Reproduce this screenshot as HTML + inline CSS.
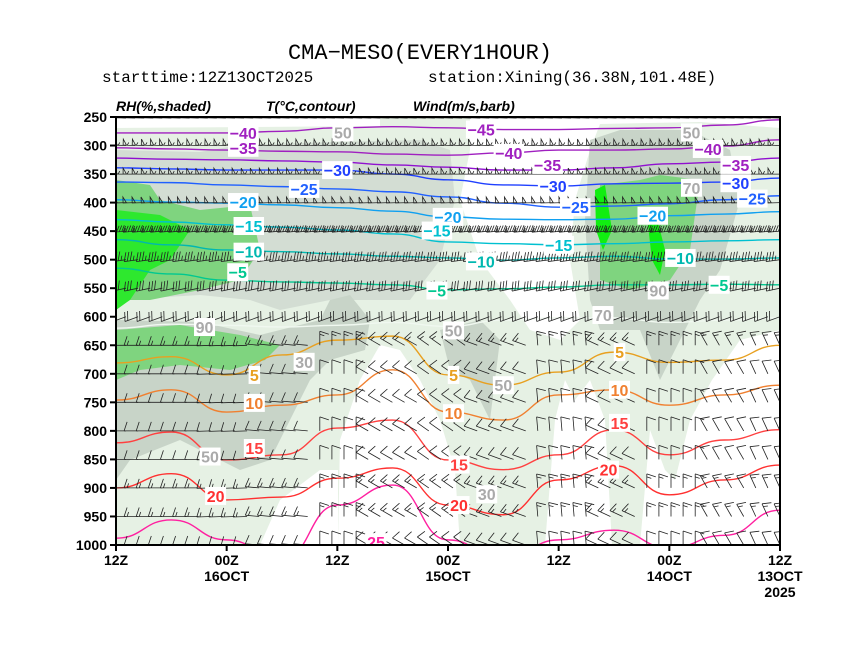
<!DOCTYPE html>
<html><head><meta charset="utf-8">
<style>
body{margin:0;background:#fff;width:860px;height:664px;overflow:hidden}
svg{display:block}
text{font-family:"Liberation Sans",sans-serif}
.mono{font-family:"Liberation Mono",monospace}
</style></head>
<body>
<svg id="chart" width="860" height="664" viewBox="0 0 860 664">
<text class="mono" x="420" y="59" font-size="22" text-anchor="middle">CMA−MESO(EVERY1HOUR)</text>
<text class="mono" x="102" y="82" font-size="16">starttime:12Z13OCT2025</text>
<text class="mono" x="428" y="82" font-size="16">station:Xining(36.38N,101.48E)</text>
<text x="116" y="111" font-size="14" font-weight="bold" font-style="italic" font-family="Liberation Serif">RH(%,shaded)</text>
<text x="266" y="111" font-size="14" font-weight="bold" font-style="italic">T(°C,contour)</text>
<text x="413" y="111" font-size="14" font-weight="bold" font-style="italic">Wind(m/s,barb)</text>
<defs><clipPath id="pc"><rect x="116" y="117" width="664" height="428"/></clipPath></defs>
<g clip-path="url(#pc)" id="plot">
<rect x="116" y="117" width="664" height="428" fill="#e6f1e4"/>
<g id="shade">
<path d="M116,117 L380,117 L380,126 L116,128 Z" fill="#fff"/>
<path d="M470,117 L780,117 L780,128 L700,122 L600,124 L590,150 L575,200 L570,260 L580,320 L560,340 L530,330 L510,300 L480,260 L460,200 L470,150 Z" fill="#fff"/>
<path d="M116,150 L200,152 L240,145 L330,142 L420,140 L450,150 L455,200 L440,260 L410,300 L330,300 L280,310 L250,300 L200,295 L116,300 Z" fill="#d3ddd3"/>
<path d="M116,320 L200,322 L260,335 L320,320 L330,300 L350,295 L370,320 L365,350 L330,360 L310,380 L290,420 L270,460 L240,470 L180,440 L130,460 L116,480 Z" fill="#c8d4c8"/>
<path d="M440,330 L480,320 L500,340 L490,420 L470,380 L450,370 Z" fill="#c8d4c8"/>
<path d="M590,140 L620,130 L690,130 L730,150 L740,200 L720,270 L700,300 L680,340 L660,380 L640,330 L600,330 L590,300 L585,220 Z" fill="#c8d4c8"/>
<path d="M116,180 L150,185 L160,200 L200,210 L250,205 L260,250 L240,280 L200,290 L150,300 L116,300 Z" fill="#7fd47f"/>
<path d="M116,330 L180,325 L240,335 L280,345 L265,360 L230,370 L180,365 L140,370 L116,380 Z" fill="#7fd47f"/>
<path d="M116,210 L160,215 L190,230 L170,260 L150,270 L130,300 L116,310 Z" fill="#2ee82e"/>
<path d="M600,185 L640,180 L660,175 L700,180 L690,250 L670,280 L630,290 L600,280 Z" fill="#7fd47f"/>
<path d="M595,190 L605,185 L612,230 L603,250 L596,230 Z" fill="#11ee11"/>
<path d="M648,225 L658,222 L665,250 L660,275 L652,260 Z" fill="#11ee11"/>
<path d="M338,545 L340,440 L360,380 L380,345 L400,350 L420,380 L440,420 L455,470 L460,545 Z" fill="#fff"/>
<path d="M545,545 L555,420 L565,380 L575,400 L590,380 L605,420 L612,545 Z" fill="#fff"/>
<path d="M640,545 L650,430 L665,470 L675,480 L690,420 L712,380 L740,340 L780,330 L780,545 Z" fill="#fff"/>
<path d="M260,545 L280,500 L320,470 L338,470 L338,545 Z" fill="#fff"/>
</g>
<g id="contours"></g>
<g id="barbs"></g>
<g id="clabels"></g>
</g>
<rect x="116" y="117" width="664" height="428" fill="none" stroke="#000" stroke-width="2"/>
<g id="axes"></g>
</svg>
<script>
// ---- data ----
const timeIdx = [0,1,2,3,4,5,6,7,8,9,10,11,12]; // every 6h, left = 72h forecast
const pLevels = [250,300,350,400,450,500,550,600,650,700,750,800,850,900,950,1000];
const xTickLabels = ["12Z","00Z\n16OCT","12Z","00Z\n15OCT","12Z","00Z\n14OCT","12Z\n13OCT\n2025"];
const isoValues = [-40,-35,-35,-30,-25,-20,-15,-10,-5,0,5,10,15,20,25];
const isoColors = ["#a020c0","#a020c0","#9010d0","#2040ff","#2060ff","#10a0f0","#00c0d0","#00b8b0","#00c890","#f0f8f0","#e8a020","#f08030","#ff4040","#ff3030","#ff20a0"];
const isoM40 = [278,278,278,275,269,267,269,272,272,270,269,264,255];
const isoM35a = [304,306,308,310,311,315,317,313,308,308,306,301,290];
const isoM35b = [322,324,325,327,329,334,338,343,343,339,332,329,322];
const isoM30 = [339,341,343,343,343,350,360,369,371,367,366,364,357];
const isoM25 = [364,365,369,372,376,381,390,401,408,406,402,395,388];
const isoM20 = [395,399,401,404,409,415,425,429,430,429,423,420,416];
const isoM15 = [430,434,439,443,448,455,469,472,474,472,469,467,465];
const isoM10 = [465,474,483,486,490,494,497,501,497,494,499,499,497];
const isoM5 = [515,525,536,539,541,544,553,551,548,544,544,543,544];
const iso0 = [620,613,615,618,615,610,617,606,602,602,610,606,602];
const iso5 = [681,670,702,667,641,634,702,720,697,662,680,676,650];
const iso10 = [746,728,767,755,737,693,767,781,737,728,755,737,720];
const iso15 = [821,802,851,842,795,781,851,868,842,798,842,816,798];
const iso20 = [900,875,921,916,883,865,930,947,886,861,912,886,860];
const iso25 = [988,956,991,1026,930,895,991,1026,991,974,1005,983,939];
const isoSeries = [isoM40,isoM35a,isoM35b,isoM30,isoM25,isoM20,isoM15,isoM10,isoM5,iso0,iso5,iso10,iso15,iso20,iso25];
// contour labels
const labelText = ["-40","-45","-35","-40","-40","-35","-35","-30","-30","-30","-25","-25","-25","-20","-20","-20","-15","-15","-15","-10","-10","-10","-5","-5","-5","5","5","5","10","10","10","15","15","15","20","20","20","25","50","50","70","90","30","50","50","30","70","90","50"];
const labelT = [2.3,6.6,2.3,7.1,10.7,7.8,11.2,4.0,7.9,11.2,3.4,8.3,11.5,2.3,6.0,9.7,2.4,5.8,8.0,2.4,6.6,10.2,2.2,5.8,10.9,2.5,6.1,9.1,2.5,6.1,9.1,2.5,6.2,9.1,1.8,6.2,8.9,4.7,4.1,10.4,10.4,1.6,3.4,6.1,7.0,6.7,8.8,9.8,1.7];
const labelP = [278,272,304,313,306,334,334,343,371,366,376,408,393,399,425,423,441,449,474,486,503,497,522,554,544,702,702,662,751,769,728,830,859,786,914,930,868,995,277,277,374,618,679,624,720,911,597,554,845];
// wind: per-level speed (m/s) and direction (deg from)
const barbP = [252,300,350,400,450,500,550,600,650,700,750,800,850,900,950,1000];
const barbSpeed = [56,56,55,52,46,38,30,20,14,12,12,12,12,14,14,10];
const barbDir = [272,272,270,268,265,262,258,250,245,240,235,230,225,220,215,205];
// low-level (>=650 hPa) direction by 6-hourly time block
const lowDirByTime = [270,270,268,275,0,300,305,290,355,295,0,330,335];
// ---- scales ----
const X0=116,X1=780,Y0=117,Y1=545;
const xs = t => X0 + t/12*(X1-X0);
const ys = p => Y0 + (p-250)/750*(Y1-Y0);
const NS="http://www.w3.org/2000/svg";
function mk(tag,attrs,parent){const e=document.createElementNS(NS,tag);for(const k in attrs)e.setAttribute(k,attrs[k]);parent.appendChild(e);return e;}
// contours
const cg=document.getElementById('contours');
isoSeries.forEach((arr,i)=>{
  let d="";
  arr.forEach((p,j)=>{const x=xs(timeIdx[j]),y=ys(p);
    if(j===0)d+="M"+x+","+y;else{const xp=xs(timeIdx[j-1]),yp=ys(arr[j-1]);const cx=(xp+x)/2;d+=" C"+cx+","+yp+" "+cx+","+y+" "+x+","+y;}});
  const e=mk('path',{d:d,fill:"none",stroke:isoColors[i],"stroke-width":1.4},cg);
  
  
});
// barbs
const bg=document.getElementById('barbs');
barbP.forEach((p,li)=>{
  const sp=barbSpeed[li];
  const strong=sp>=40;
  const ncol=strong?73:55;
  const L=strong?12:14;
  for(let c=0;c<ncol;c++){
    const x=X0+10+c*(X1-X0-10)/(ncol-1), y=ys(p);
    const tb=Math.round((x-X0)/(X1-X0)*12);
    const deg=(p>=650)?lowDirByTime[tb]:barbDir[li];
    const dir=deg*Math.PI/180;
    const dx=Math.sin(dir), dy=-Math.cos(dir);
    const sx=x+dx*L, sy=y+dy*L;
    const px=-dy, py=dx;
    const fl=strong?6:9;
    let d="M"+x.toFixed(1)+","+y.toFixed(1)+" L"+sx.toFixed(1)+","+sy.toFixed(1);
    let rem=sp, pos=L, step=strong?2.6:3;
    let fill="";
    while(rem>=50){
      const ax=x+dx*pos, ay=y+dy*pos, bx=x+dx*(pos-step*1.3), by=y+dy*(pos-step*1.3);
      fill+="M"+ax.toFixed(1)+","+ay.toFixed(1)+" L"+(ax+px*fl).toFixed(1)+","+(ay+py*fl).toFixed(1)+" L"+bx.toFixed(1)+","+by.toFixed(1)+"Z ";
      pos-=step*1.6; rem-=50;
    }
    while(rem>=10){
      const ax=x+dx*pos, ay=y+dy*pos;
      d+=" M"+ax.toFixed(1)+","+ay.toFixed(1)+" l"+(px*fl-dx*3).toFixed(1)+","+(py*fl-dy*3).toFixed(1);
      pos-=step; rem-=10;
    }
    if(rem>=4){
      const ax=x+dx*pos, ay=y+dy*pos;
      d+=" M"+ax.toFixed(1)+","+ay.toFixed(1)+" l"+(px*fl/2-dx*1.5).toFixed(1)+","+(py*fl/2-dy*1.5).toFixed(1);
    }
    const e=mk('path',{d:d+" "+fill,fill:"none",stroke:"#222","stroke-width":0.8},bg);
    
    
  }
});
// contour labels
const lg=document.getElementById('clabels');
labelText.forEach((s,i)=>{
  const x=xs(labelT[i]),y=ys(labelP[i]);
  const v=parseInt(s,10);
  let col="#aaa";
  const vi=isoValues.indexOf(v);
  const isRH=(s==="50"||s==="70"||s==="90"||s==="30");
  if(!isRH&&vi>=0)col=isoColors[vi];
  if(s==="-45")col="#a020c0";
  const w=s.length*9.5+2;
  const r=mk('rect',{x:x-w/2,y:y-9,width:w,height:18,fill:"#fff"},lg);
  
  
  const t=mk('text',{x:x,y:y+6,"font-size":16,"font-weight":"bold","text-anchor":"middle",fill:col},lg);
  t.textContent=s.replace("-","−");
  
  
});
// axes
const ag=document.getElementById('axes');
pLevels.forEach(p=>{
  const y=ys(p);
  const tk=mk('line',{x1:110,x2:116,y1:y,y2:y,stroke:"#000","stroke-width":2},ag);
  
  
  const t=mk('text',{x:107,y:y+5,"font-size":14,"font-weight":"bold","text-anchor":"end"},ag);
  t.textContent=p;
  
  
});
xTickLabels.forEach((s,i)=>{
  const x=xs(i*2);
  const tk=mk('line',{x1:x,x2:x,y1:545,y2:551,stroke:"#000","stroke-width":2},ag);
  
  
  s.split("\n").forEach((ln,j)=>{
    const t=mk('text',{x:x,y:565+j*16,"font-size":14,"font-weight":"bold","text-anchor":"middle"},ag);
    t.textContent=ln;
    
    
  });
});
</script>
</body></html>
